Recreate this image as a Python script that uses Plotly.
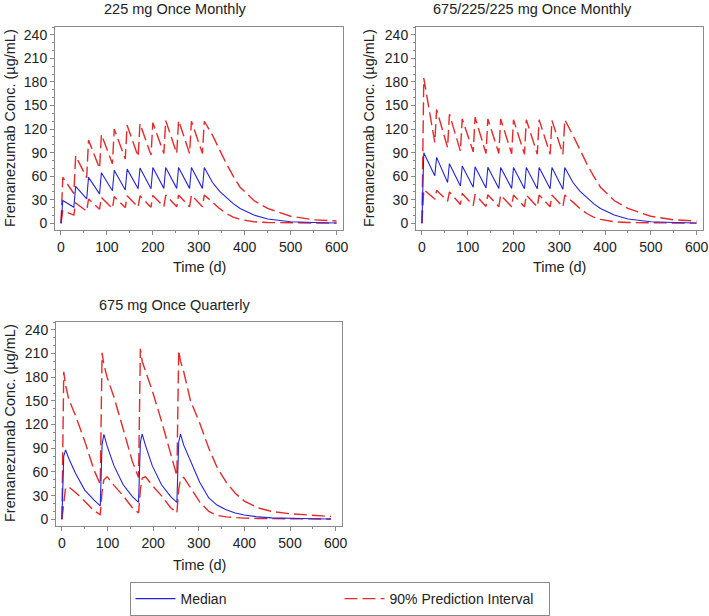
import plotly.graph_objects as go

# ---------------- data ----------------
T_MONTHLY = [0, 4, 28, 32, 56, 60, 84, 88, 112, 116, 140, 144, 168, 172, 196, 200,
             224, 228, 252, 256, 280, 284, 308, 312,
             330, 345, 360, 375, 390, 420, 450, 500, 550, 600]

P1_MEDIAN = [0, 29, 20.5, 47, 31, 58.5, 37.5, 64.5, 41.5, 67.5, 42.5, 69, 44, 70.5, 44, 71,
             44.5, 71, 44.5, 71, 44.5, 71, 44.5, 71,
             52, 41, 33, 25, 19, 10.5, 5.5, 2, 1, 0.5]
P1_UPPER = [0, 58.5, 38, 86, 58, 106, 70, 113, 76, 120, 82, 125, 85, 127, 87, 128,
            89, 131, 89, 131, 89, 130, 89, 130,
            112, 93, 76, 60, 46, 29, 19, 9, 4.5, 3]
P1_LOWER = [0, 16, 10.5, 26, 15.5, 31, 18, 33, 19, 34, 20, 35, 20.5, 35, 20.5, 35.5,
            21, 36, 21, 36, 21, 36, 21, 36,
            27, 19, 12.5, 8, 5, 2, 1, 0.5, 0.3, 0.2]

P2_MEDIAN = [0, 90, 60.5, 84, 52, 76, 47.5, 73, 46, 72, 45, 71.5, 44.5, 71, 44.5, 71,
             44, 71, 44, 71, 44, 71, 43.5, 71,
             52, 41, 33, 25, 19, 10.5, 5.5, 2, 1, 0.5]
P2_UPPER = [0, 185, 103, 145, 96.5, 139, 92, 133, 91, 135, 89, 133, 89, 133, 88.5, 132,
            88, 132, 88, 132, 88, 131, 88, 132,
            112, 93, 76, 60, 46, 29, 19, 9, 4.5, 3]
P2_LOWER = [0, 43, 31, 42, 28, 40, 24, 38, 22.5, 37, 21.5, 36.5, 21, 36, 21, 36,
            21, 36, 21, 36, 21, 36, 21, 36,
            27, 19, 12.5, 8, 5, 2, 1, 0.5, 0.3, 0.2]

T_QUARTERLY = [0, 4, 8, 15, 30, 50, 70,
               84, 88, 92, 99, 114, 134, 154,
               168, 172, 176, 183, 198, 218, 238,
               252, 256, 260, 267, 282, 302, 322,
               340, 360, 380, 400, 430, 460, 500, 550, 590]
P3_MEDIAN = [0, 80, 88, 77, 58, 37, 24.5,
             17, 95, 107.5, 93, 68, 44, 29,
             21.5, 98, 108, 94, 68, 44, 29,
             21.5, 98, 108, 94, 73, 47, 27,
             18, 12, 8, 5.5, 3, 1.8, 1, 0.6, 0.4]
P3_UPPER = [0, 187, 170, 152, 131, 99, 63,
            44, 211, 196, 180, 155, 115, 74,
            53, 216, 200, 188, 163, 125, 82,
            55, 214, 200, 187, 150, 122, 90,
            66, 47, 33, 23, 14.5, 10, 7, 5, 3.5]
P3_LOWER = [0, 25, 40, 41, 34, 23, 11,
            6, 35, 50, 54, 43, 30, 15,
            8, 38, 52, 54, 43, 30, 15,
            8, 38, 51, 53, 40, 22, 10,
            5, 3, 2, 1.5, 1, 0.7, 0.5, 0.4, 0.3]

PANEL_TITLES = ["225 mg Once Monthly", "675/225/225 mg Once Monthly", "675 mg Once Quarterly"]
Y_TICKS = [0, 30, 60, 90, 120, 150, 180, 210, 240]
X_TICKS = [0, 100, 200, 300, 400, 500, 600]
LEGEND_NAMES = ["Median", "90% Prediction Interval"]

# ---------------- style ----------------
W, H = 709, 616
FONT = "Liberation Sans, Arial, sans-serif"
BLUE = "#2424d8"
RED = "#e42a2a"
FRAME = "#8a8a8a"
TXT = "#222222"
DASH = "13px,5px"


def px_x(p):
    return p / W


def px_y(p):
    return 1 - p / H


fig = go.Figure()

panels = [
    (T_MONTHLY, P1_MEDIAN, P1_UPPER, P1_LOWER, "x", "y"),
    (T_MONTHLY, P2_MEDIAN, P2_UPPER, P2_LOWER, "x2", "y2"),
    (T_QUARTERLY, P3_MEDIAN, P3_UPPER, P3_LOWER, "x3", "y3"),
]

for i, (t, med, up, lo, xa, ya) in enumerate(panels):
    first = (i == 0)
    fig.add_trace(go.Scatter(x=t, y=up, mode="lines", xaxis=xa, yaxis=ya,
                             line=dict(color=RED, width=1.4, dash=DASH),
                             name=LEGEND_NAMES[1], legendgroup="pi",
                             showlegend=first, legendrank=2))
    fig.add_trace(go.Scatter(x=t, y=lo, mode="lines", xaxis=xa, yaxis=ya,
                             line=dict(color=RED, width=1.4, dash=DASH),
                             name=LEGEND_NAMES[1], legendgroup="pi",
                             showlegend=False))
    fig.add_trace(go.Scatter(x=t, y=med, mode="lines", xaxis=xa, yaxis=ya,
                             line=dict(color=BLUE, width=1.1),
                             name=LEGEND_NAMES[0], legendgroup="med",
                             showlegend=first, legendrank=1))

# axis domains in pixels: (left, right, top, bottom)
boxes = [(55, 343, 27, 230), (416, 703, 27, 230), (56, 342, 322, 526)]

axis_common = dict(showline=True, mirror=True, linecolor=FRAME, linewidth=1,
                   ticks="outside", ticklen=4, tickcolor=FRAME, showgrid=False,
                   zeroline=False, tickfont=dict(family=FONT, size=14, color=TXT),
                   automargin=False)

layout = {}
for i, (l, r, tp, b) in enumerate(boxes):
    sfx = "" if i == 0 else str(i + 1)
    layout["xaxis" + sfx] = dict(axis_common, domain=[px_x(l), px_x(r)],
                                 range=[-13, 614], tickvals=X_TICKS,
                                 anchor="y" + sfx,
                                 minor=dict(ticks="outside", ticklen=2, dtick=50,
                                            tick0=0, tickcolor=FRAME))
    layout["yaxis" + sfx] = dict(axis_common, domain=[px_y(b), px_y(tp)],
                                 range=[-8.5, 250], tickvals=Y_TICKS,
                                 anchor="x" + sfx,
                                 minor=dict(ticks="outside", ticklen=2, dtick=10,
                                            tick0=0, tickcolor=FRAME))

ann = []
title_pos = [(175, 9), (532, 9), (174, 305)]
for (cx, cy), txt in zip(title_pos, PANEL_TITLES):
    ann.append(dict(text=txt, x=px_x(cx), y=px_y(cy), xref="paper", yref="paper",
                    showarrow=False, xanchor="center", yanchor="middle",
                    font=dict(family=FONT, size=14.5, color=TXT)))
xt_pos = [(199, 267), (559, 267), (199, 565)]
for cx, cy in xt_pos:
    ann.append(dict(text="Time (d)", x=px_x(cx), y=px_y(cy), xref="paper", yref="paper",
                    showarrow=False, xanchor="center", yanchor="middle",
                    font=dict(family=FONT, size=14.5, color=TXT)))
yt_pos = [(10, 128), (369, 128), (10, 423)]
for cx, cy in yt_pos:
    ann.append(dict(text="Fremanezumab Conc. (µg/mL)", x=px_x(cx), y=px_y(cy),
                    xref="paper", yref="paper", textangle=-90,
                    showarrow=False, xanchor="center", yanchor="middle",
                    font=dict(family=FONT, size=14.5, color=TXT)))

fig.update_layout(
    width=W, height=H,
    margin=dict(l=0, r=0, t=0, b=0),
    paper_bgcolor="white", plot_bgcolor="white",
    font=dict(family=FONT, size=14, color=TXT),
    annotations=ann,
    showlegend=True,
    legend=dict(orientation="h", x=px_x(339.5), y=px_y(599), xanchor="center",
                yanchor="middle", bordercolor=FRAME, borderwidth=1, bgcolor="white",
                font=dict(family=FONT, size=14, color=TXT),
                entrywidth=154, itemwidth=40, traceorder="normal"),
    **layout,
)

fig.write_html("out.html", config={"displayModeBar": False},
               post_script="document.body.style.margin='0';document.body.style.overflow='hidden';")
